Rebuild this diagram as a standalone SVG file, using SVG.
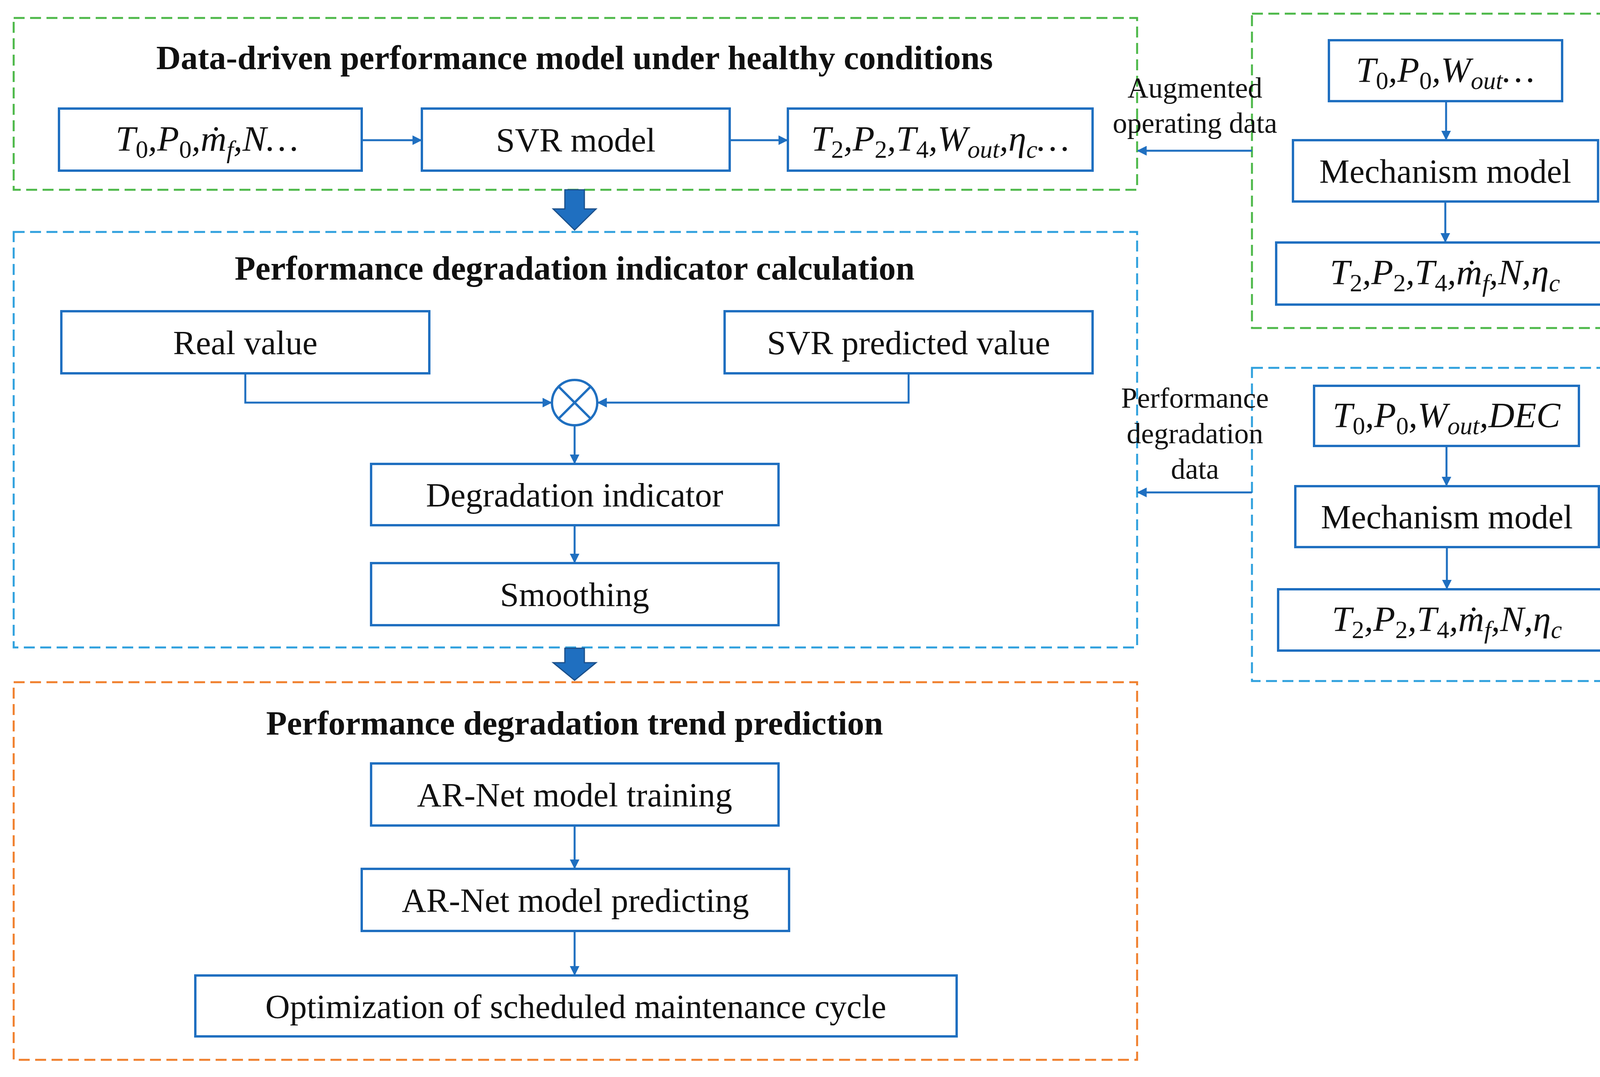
<svg xmlns="http://www.w3.org/2000/svg" width="4233" height="2758" viewBox="0 0 4233 2758">
<style>
.bx{fill:#fff;stroke:#1f6fc0;stroke-width:6}
.t{font-family:"Liberation Serif",serif;font-size:87px;fill:#111;text-anchor:middle}
.m{font-family:"Liberation Serif",serif;font-style:italic;font-size:92px;fill:#111;text-anchor:middle}
.s{font-size:64px}
.u{font-size:64px;font-style:normal}
.h{font-family:"Liberation Serif",serif;font-weight:bold;font-size:87px;fill:#111;text-anchor:middle}
.l{font-family:"Liberation Serif",serif;font-size:74px;fill:#111;text-anchor:middle}
.c{fill:none;stroke:#1f6fc0;stroke-width:5}
.dg{fill:none;stroke:#4cb848;stroke-width:5;stroke-dasharray:28 14}
.db{fill:none;stroke:#2ea0dd;stroke-width:5;stroke-dasharray:28 14}
.do{fill:none;stroke:#f07f2c;stroke-width:5;stroke-dasharray:28 14}
.big{fill:#1f6fc0;stroke:#1a4f8a;stroke-width:3}
</style>
<defs><marker id="a" viewBox="0 0 10 10" refX="9" refY="5" markerWidth="5" markerHeight="5" orient="auto"><path d="M0,0L10,5L0,10z" fill="#1f6fc0"/></marker></defs>
<rect width="4233" height="2758" fill="#fff"/>
<g id="frames">
<rect class="dg" x="35" y="46" width="2876" height="440"/>
<rect class="db" x="35" y="594" width="2876" height="1064"/>
<rect class="do" x="35" y="1747" width="2876" height="967"/>
<rect class="dg" x="3205" y="35" width="996" height="805"/>
<rect class="db" x="3205" y="942" width="996" height="802"/>
</g>
<g id="titles">
<text class="h" x="1471" y="177">Data-driven performance model under healthy conditions</text>
<text class="h" x="1471" y="716">Performance degradation indicator calculation</text>
<text class="h" x="1471" y="1881">Performance degradation trend prediction</text>
</g>
<g id="n1"><rect class="bx" x="151" y="278" width="775" height="159"/><text class="m" x="530" y="386">T<tspan class="u" dy="18">0</tspan><tspan dy="-18">,P</tspan><tspan class="u" dy="18">0</tspan><tspan dy="-18">,ṁ</tspan><tspan class="s" dy="18">f</tspan><tspan dy="-18">,N…</tspan></text></g>
<g id="n2"><rect class="bx" x="1080" y="278" width="788" height="159"/><text class="t" x="1474" y="388">SVR model</text></g>
<g id="n3"><rect class="bx" x="2017" y="278" width="780" height="159"/><text class="m" x="2407" y="386">T<tspan class="u" dy="18">2</tspan><tspan dy="-18">,P</tspan><tspan class="u" dy="18">2</tspan><tspan dy="-18">,T</tspan><tspan class="u" dy="18">4</tspan><tspan dy="-18">,W</tspan><tspan class="s" dy="18">out</tspan><tspan dy="-18">,η</tspan><tspan class="s" dy="18">c</tspan><tspan dy="-18">…</tspan></text></g>
<g id="n4"><rect class="bx" x="157" y="797" width="942" height="159"/><text class="t" x="628" y="907">Real value</text></g>
<g id="n5"><rect class="bx" x="1855" y="797" width="942" height="159"/><text class="t" x="2326" y="907">SVR predicted value</text></g>
<g id="n6"><circle cx="1471" cy="1031" r="58" fill="#fff" stroke="#1f6fc0" stroke-width="6"/><path d="M1430,990L1512,1072M1512,990L1430,1072" stroke="#1f6fc0" stroke-width="6"/></g>
<g id="n7"><rect class="bx" x="950" y="1188" width="1043" height="157"/><text class="t" x="1471" y="1297">Degradation indicator</text></g>
<g id="n8"><rect class="bx" x="950" y="1442" width="1043" height="159"/><text class="t" x="1471" y="1552">Smoothing</text></g>
<g id="n9"><rect class="bx" x="950" y="1955" width="1043" height="159"/><text class="t" x="1471" y="2065">AR-Net model training</text></g>
<g id="n10"><rect class="bx" x="926" y="2225" width="1094" height="159"/><text class="t" x="1473" y="2335">AR-Net model predicting</text></g>
<g id="n11"><rect class="bx" x="500" y="2498" width="1949" height="156"/><text class="t" x="1474" y="2607">Optimization of scheduled maintenance cycle</text></g>
<g id="n12"><rect class="bx" x="3402" y="103" width="597" height="156"/><text class="m" x="3700" y="210">T<tspan class="u" dy="18">0</tspan><tspan dy="-18">,P</tspan><tspan class="u" dy="18">0</tspan><tspan dy="-18">,W</tspan><tspan class="s" dy="18">out</tspan><tspan dy="-18">…</tspan></text></g>
<g id="n13"><rect class="bx" x="3310" y="359" width="781" height="157"/><text class="t" x="3700" y="468">Mechanism model</text></g>
<g id="n14"><rect class="bx" x="3267" y="621" width="864" height="159"/><text class="m" x="3699" y="728">T<tspan class="u" dy="18">2</tspan><tspan dy="-18">,P</tspan><tspan class="u" dy="18">2</tspan><tspan dy="-18">,T</tspan><tspan class="u" dy="18">4</tspan><tspan dy="-18">,ṁ</tspan><tspan class="s" dy="18">f</tspan><tspan dy="-18">,N,η</tspan><tspan class="s" dy="18">c</tspan></text></g>
<g id="n15"><rect class="bx" x="3364" y="988" width="678" height="154"/><text class="m" x="3703" y="1094">T<tspan class="u" dy="18">0</tspan><tspan dy="-18">,P</tspan><tspan class="u" dy="18">0</tspan><tspan dy="-18">,W</tspan><tspan class="s" dy="18">out</tspan><tspan dy="-18">,DEC</tspan></text></g>
<g id="n16"><rect class="bx" x="3316" y="1245" width="777" height="156"/><text class="t" x="3704" y="1353">Mechanism model</text></g>
<g id="n17"><rect class="bx" x="3272" y="1509" width="864" height="157"/><text class="m" x="3704" y="1616">T<tspan class="u" dy="18">2</tspan><tspan dy="-18">,P</tspan><tspan class="u" dy="18">2</tspan><tspan dy="-18">,T</tspan><tspan class="u" dy="18">4</tspan><tspan dy="-18">,ṁ</tspan><tspan class="s" dy="18">f</tspan><tspan dy="-18">,N,η</tspan><tspan class="s" dy="18">c</tspan></text></g>
<g id="connectors">
<path class="c" marker-end="url(#a)" d="M926,359H1078"/>
<path class="c" marker-end="url(#a)" d="M1868,359H2015"/>
<path class="c" marker-end="url(#a)" d="M628,956V1031H1411"/>
<path class="c" marker-end="url(#a)" d="M2326,956V1031H1531"/>
<path class="c" marker-end="url(#a)" d="M1471,1089V1186"/>
<path class="c" marker-end="url(#a)" d="M1471,1345V1440"/>
<path class="c" marker-end="url(#a)" d="M1471,2114V2223"/>
<path class="c" marker-end="url(#a)" d="M1471,2384V2496"/>
<path class="c" marker-end="url(#a)" d="M3702,259V357"/>
<path class="c" marker-end="url(#a)" d="M3700,516V619"/>
<path class="c" marker-end="url(#a)" d="M3703,1142V1243"/>
<path class="c" marker-end="url(#a)" d="M3704,1401V1507"/>
<path class="c" marker-end="url(#a)" d="M3205,386H2913"/>
<path class="c" marker-end="url(#a)" d="M3205,1261H2913"/>
<path class="big" d="M1446,486H1496V535H1526L1471,589L1416,535H1446Z"/>
<path class="big" d="M1446,1660H1496V1697H1526L1471,1742L1416,1697H1446Z"/>
<text class="l" x="3059" y="250">Augmented</text>
<text class="l" x="3059" y="340">operating  data</text>
<text class="l" x="3059" y="1044">Performance</text>
<text class="l" x="3059" y="1135">degradation</text>
<text class="l" x="3059" y="1226">data</text>
</g>
</svg>
